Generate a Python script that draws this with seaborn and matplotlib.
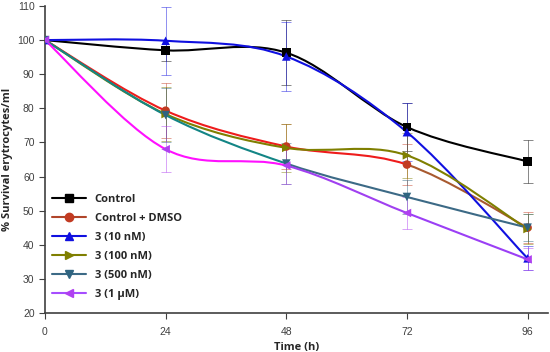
"""
plot.py
-------
Survival of erythrocytes over time (smoothed lines, markers, error bars).
"""

import numpy as np
import pandas as pd
import matplotlib
matplotlib.use("Agg")
import matplotlib.pyplot as plt
from matplotlib.path import Path
from matplotlib.patches import PathPatch
from matplotlib.lines import Line2D
import seaborn as sns

# ---- data -------------------------------------------------------------
hours = [0, 24, 48, 72, 96]
series_names = ["Control", "Control + DMSO", "3 (10 nM)", "3 (100 nM)", "3 (500 nM)", "3 (1 µM)"]

control = [100, 97.0, 96.3, 74.5, 64.4]
control_dmso = [100, 79.3, 68.8, 63.5, 45.0]
c10nm = [100, 99.8, 95.2, 73.0, 36.0]
c100nm = [100, 78.3, 68.4, 66.2, 44.6]
c500nm = [100, 78.0, 63.8, 54.0, 45.0]
c1um = [100, 68.0, 63.2, 49.3, 35.7]

control_err = [0, 3.0, 9.5, 7.0, 6.4]
control_dmso_err = [0, 8.0, 6.5, 6.0, 4.5]
c10nm_err = [0, 10.0, 10.0, 8.5, 3.5]
c100nm_err = [0, 7.8, 7.0, 6.5, 4.5]
c500nm_err = [0, 8.0, 6.0, 5.0, 4.0]
c1um_err = [0, 6.8, 5.5, 4.6, 3.2]

values = [control, control_dmso, c10nm, c100nm, c500nm, c1um]
errors = [control_err, control_dmso_err, c10nm_err, c100nm_err, c500nm_err, c1um_err]

# ---- style ------------------------------------------------------------
marker_colors = {
    "Control": "#000000",
    "Control + DMSO": "#c23b22",
    "3 (10 nM)": "#1010e0",
    "3 (100 nM)": "#7f7f00",
    "3 (500 nM)": "#2f6480",
    "3 (1 µM)": "#b040f0",
}
# colour of each of the four segments between time points
segment_colors = {
    "Control": ["#000000"] * 4,
    "Control + DMSO": ["#ee1c1c", "#ee1c1c", "#ee1c1c", "#a85a30"],
    "3 (10 nM)": ["#1010e0"] * 4,
    "3 (100 nM)": ["#7f7f00"] * 4,
    "3 (500 nM)": ["#138585", "#138585", "#3c6a86", "#3c6a86"],
    "3 (1 µM)": ["#ff10ff", "#ff10ff", "#a040f0", "#9b3ff5"],
}
legend_line_colors = {
    "Control": "#000000",
    "Control + DMSO": "#b0452a",
    "3 (10 nM)": "#1010e0",
    "3 (100 nM)": "#7f7f00",
    "3 (500 nM)": "#3c6a86",
    "3 (1 µM)": "#a64dff",
}
marker_shapes = {
    "Control": "s",
    "Control + DMSO": "o",
    "3 (10 nM)": "^",
    "3 (100 nM)": ">",
    "3 (500 nM)": "v",
    "3 (1 µM)": "<",
}


def smooth_segments(x, y):
    """Catmull-Rom style cubic Bezier pieces through the points (Excel-like smoothing)."""
    pts = np.column_stack([x, y]).astype(float)
    ext = np.vstack([pts[0], pts, pts[-1]])
    pieces = []
    for i in range(len(pts) - 1):
        p0, p1, p2, p3 = ext[i], ext[i + 1], ext[i + 2], ext[i + 3]
        c1 = p1 + (p2 - p0) / 6.0
        c2 = p2 - (p3 - p1) / 6.0
        pieces.append([p1, c1, c2, p2])
    return pieces


sns.set_theme(style="ticks")
plt.rcParams["font.family"] = ["Liberation Sans", "DejaVu Sans"]

fig = plt.figure(figsize=(5.5, 3.52), dpi=100)
ax = fig.add_axes([0.0818, 0.111, 0.914, 0.872])

# smooth lines
for name, ys in zip(series_names, values):
    for (p1, c1, c2, p2), col in zip(smooth_segments(hours, ys), segment_colors[name]):
        path = Path([p1, c1, c2, p2], [Path.MOVETO, Path.CURVE4, Path.CURVE4, Path.CURVE4])
        ax.add_patch(PathPatch(path, facecolor="none", edgecolor=col, lw=1.5, zorder=2))

# error bars
for name, ys, es in zip(series_names, values, errors):
    ax.errorbar(hours[1:], ys[1:], yerr=es[1:], fmt="none", ecolor=marker_colors[name],
                elinewidth=0.6, capsize=3.5, capthick=0.6, alpha=0.55, zorder=1)

# markers
df = pd.DataFrame({
    "time": np.tile(hours, len(series_names)),
    "survival": np.concatenate(values),
    "series": np.repeat(series_names, len(hours)),
})
sns.scatterplot(data=df, x="time", y="survival", hue="series", style="series",
                palette=marker_colors, markers=marker_shapes, s=38, linewidth=0,
                legend=False, ax=ax, zorder=3)

ax.set_xlim(0, 100)
ax.set_ylim(20, 110)
ax.set_xticks(hours)
ax.set_yticks(np.arange(20, 111, 10))
ax.tick_params(axis="both", labelsize=7.5, colors="#404040", length=4, width=0.8, direction="out")
ax.tick_params(axis="x", pad=6)
for side in ["top", "right"]:
    ax.spines[side].set_visible(False)
for side in ["left", "bottom"]:
    ax.spines[side].set_color("#404040")
    ax.spines[side].set_linewidth(1.2)

label_font = {"family": ["Open Sans", "DejaVu Sans"], "weight": "bold", "size": 8}
ax.set_xlabel("Time (h)", fontdict=label_font, labelpad=4)
ax.set_ylabel("% Survival erytrocytes/ml", fontdict=label_font, labelpad=3)

handles = [
    Line2D([0], [0], color=legend_line_colors[n], lw=1.5, marker=marker_shapes[n],
           markersize=6, markerfacecolor=marker_colors[n], markeredgecolor=marker_colors[n])
    for n in series_names
]
ax.legend(handles, series_names, loc="upper left", bbox_to_anchor=(-0.005, 0.42), frameon=False,
          handlelength=3.0, handletextpad=0.8, labelspacing=0.72,
          prop={"family": ["Open Sans", "DejaVu Sans"], "weight": "bold", "size": 8})

fig.savefig("out.png", dpi=100)
plt.close(fig)
